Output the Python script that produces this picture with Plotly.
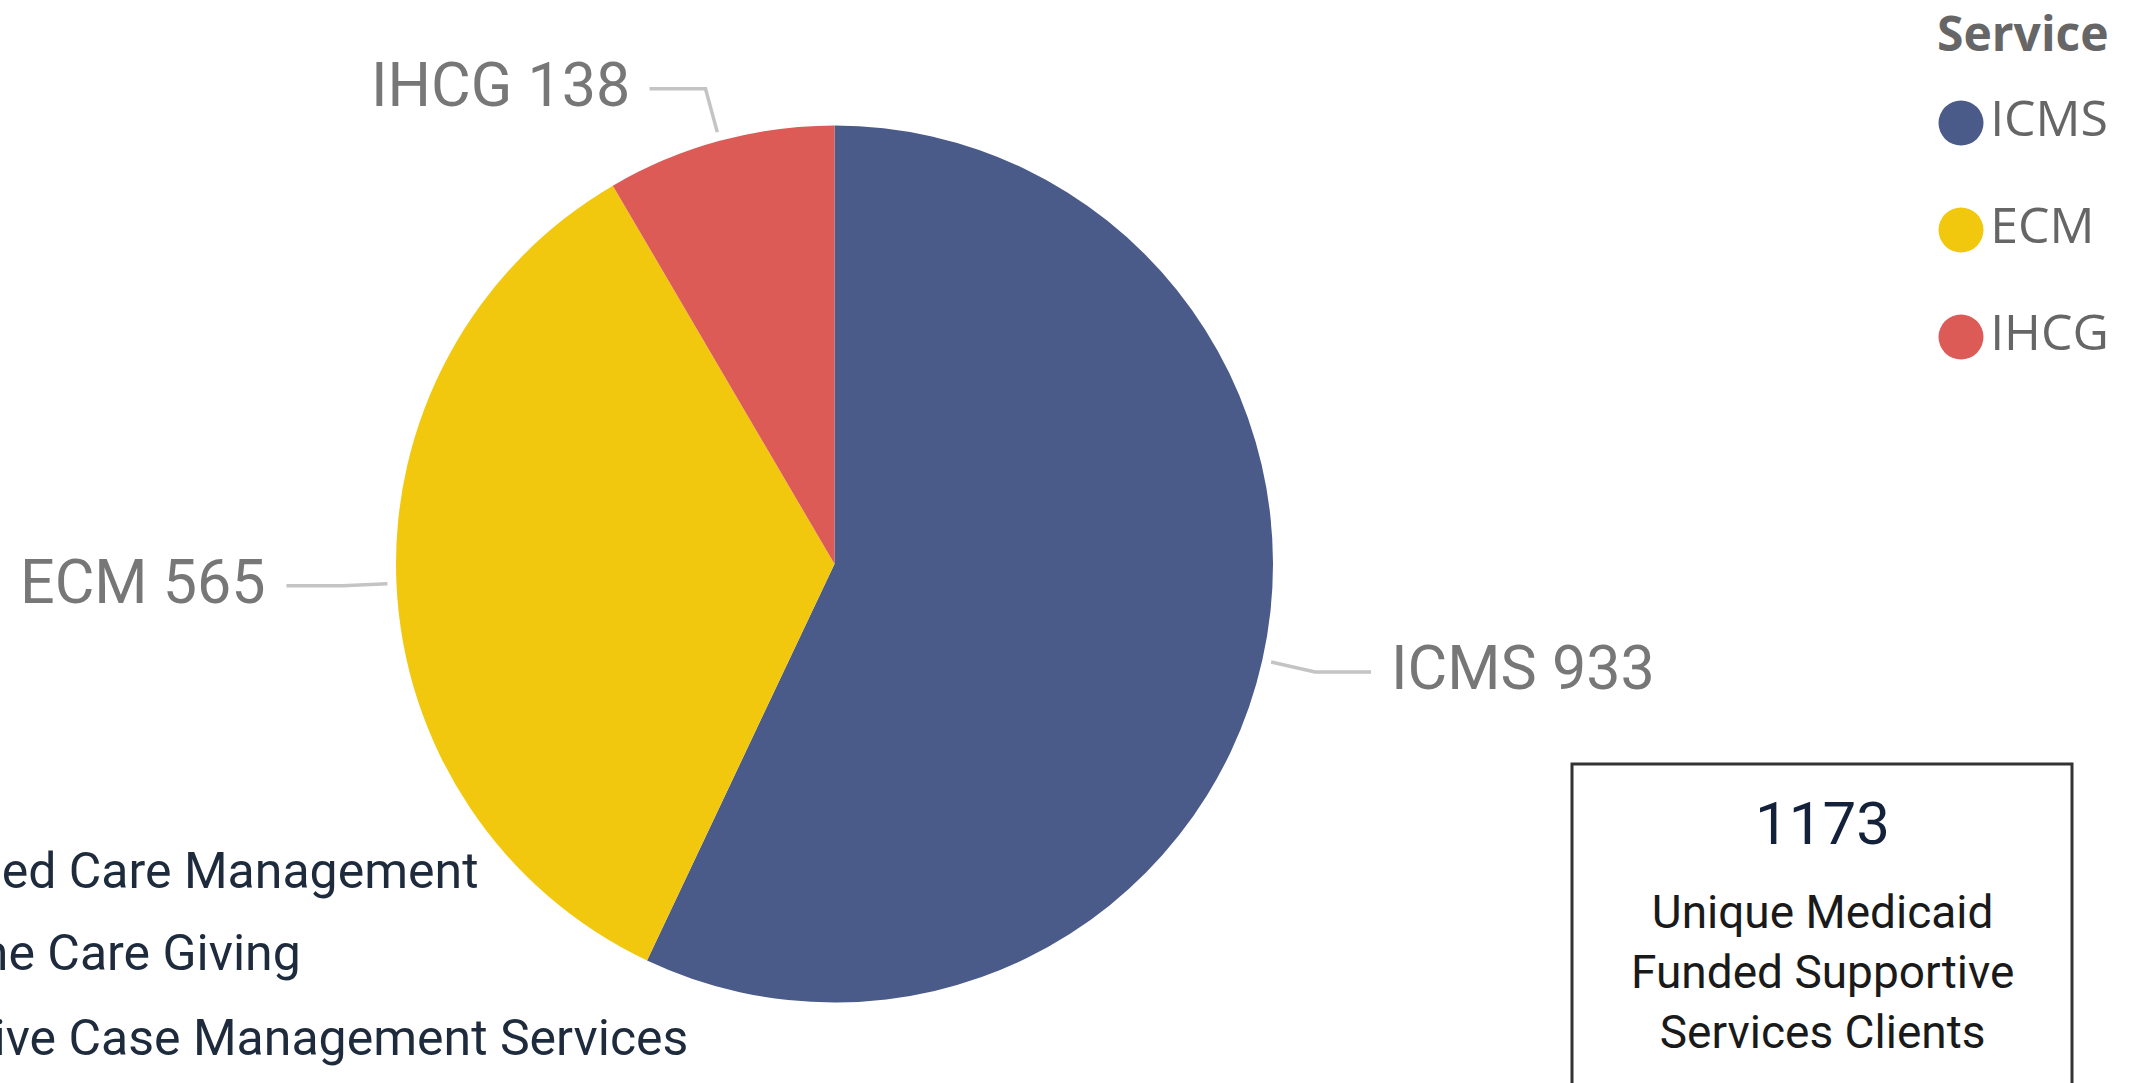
import math
import plotly.graph_objects as go

# Medicaid-funded supportive services by service type
services = ["ICMS", "ECM", "IHCG"]
clients = [933, 565, 138]
colors = ["#4A5A89", "#F2C80F", "#DC5B57"]
service_names = [
    "ICMS: Intensive Case Management Services",
    "ECM: Enhanced Care Management",
    "IHCG: In-Home Care Giving",
]
unique_clients = 1173
card_caption = "Unique Medicaid<br>Funded Supportive<br>Services Clients"

W, H = 2141, 1083
LABEL_FONT = "Roboto, 'DejaVu Sans', sans-serif"
UI_FONT = "'Open Sans', 'Noto Sans', sans-serif"


def px(x):
    return x / W


def py(y):
    return 1 - y / H


# pie geometry in page pixels
cx, cy, r = 834.5, 564.0, 438.5

fig = go.Figure()
fig.add_trace(go.Pie(
    labels=services,
    values=clients,
    sort=False,
    direction="clockwise",
    rotation=0,
    marker=dict(colors=colors, line=dict(width=0)),
    textinfo="none",
    hoverinfo="label+value",
    showlegend=False,
    domain=dict(x=[px(cx - r), px(cx + r)], y=[py(cy + r), py(cy - r)]),
))

# outside data labels with elbow leader lines, placed at each slice's mid angle
shapes = []
annotations = []
total = sum(clients)
cum = 0
for name, val in zip(services, clients):
    mid = (cum + val / 2) / total
    cum += val
    th = 2 * math.pi * mid
    ux, uy = math.sin(th), -math.cos(th)
    x0, y0 = cx + (r + 9) * ux, cy + (r + 9) * uy
    x1, y1 = cx + (r + 54) * ux, cy + (r + 54) * uy
    side = 1 if ux >= 0 else -1
    x2 = x1 + side * 56
    shapes.append(dict(
        type="path", xref="paper", yref="paper",
        path=f"M {px(x0)},{py(y0)} L {px(x1)},{py(y1)} L {px(x2)},{py(y1)}",
        line=dict(color="#C4C4C4", width=3.5),
    ))
    annotations.append(dict(
        x=px(x2 + side * 18), y=py(y1 - 4), xref="paper", yref="paper",
        text=f"{name} {val}", showarrow=False,
        xanchor="left" if side > 0 else "right", yanchor="middle",
        font=dict(family=LABEL_FONT, size=61, color="#777777"),
    ))

# legend drawn as a categorical marker column
fig.add_trace(go.Scatter(
    x=[0] * len(services), y=services,
    mode="markers+text",
    marker=dict(size=45, color=colors, line=dict(width=0)),
    text=services, textposition="middle right",
    textfont=dict(family=UI_FONT, size=50, color="#666666"),
    hoverinfo="skip", showlegend=False, cliponaxis=False,
))
annotations.append(dict(
    x=px(1935), y=py(32), xref="paper", yref="paper",
    text="<b>Service</b>", showarrow=False, xanchor="left", yanchor="middle",
    font=dict(family=UI_FONT, size=48, color="#666666"),
))

# service name glossary, partly running off the left edge
for full, right_x, y in zip(
    [service_names[1], service_names[2], service_names[0]],
    [481, 303, 690], [871, 953, 1038],
):
    annotations.append(dict(
        x=px(right_x), y=py(y), xref="paper", yref="paper",
        text=full, showarrow=False, xanchor="right", yanchor="middle",
        font=dict(family=LABEL_FONT, size=50, color="#1E2B3C"),
    ))

# summary card
shapes.append(dict(
    type="rect", xref="paper", yref="paper",
    x0=px(1572), x1=px(2072), y0=py(764), y1=py(1100),
    line=dict(color="#333333", width=3), fillcolor="rgba(0,0,0,0)",
))
annotations.append(dict(
    x=px(1822), y=py(823), xref="paper", yref="paper",
    text=str(unique_clients), showarrow=False, xanchor="center", yanchor="middle",
    font=dict(family=LABEL_FONT, size=60, color="#14213A"),
))
annotations.append(dict(
    x=px(1822), y=py(972), xref="paper", yref="paper",
    text=card_caption, showarrow=False, xanchor="center", yanchor="middle",
    font=dict(family=LABEL_FONT, size=46, color="#1A1A1A"),
))

# legend axis: three rows spaced ~107 px, first row centred near y=123
row = 107.0
top = 123 - row / 2
bottom = top + 3 * row
fig.update_layout(
    width=W, height=H,
    margin=dict(l=0, r=0, t=0, b=0),
    paper_bgcolor="white", plot_bgcolor="rgba(0,0,0,0)",
    showlegend=False,
    shapes=shapes,
    annotations=annotations,
    xaxis=dict(domain=[px(1931), px(1991)], range=[-1, 1], visible=False, fixedrange=True),
    yaxis=dict(domain=[py(bottom), py(top)], range=[2.5, -0.5], visible=False,
               type="category", categoryorder="array", categoryarray=services,
               fixedrange=True),
)

fig.write_html("out.html")
